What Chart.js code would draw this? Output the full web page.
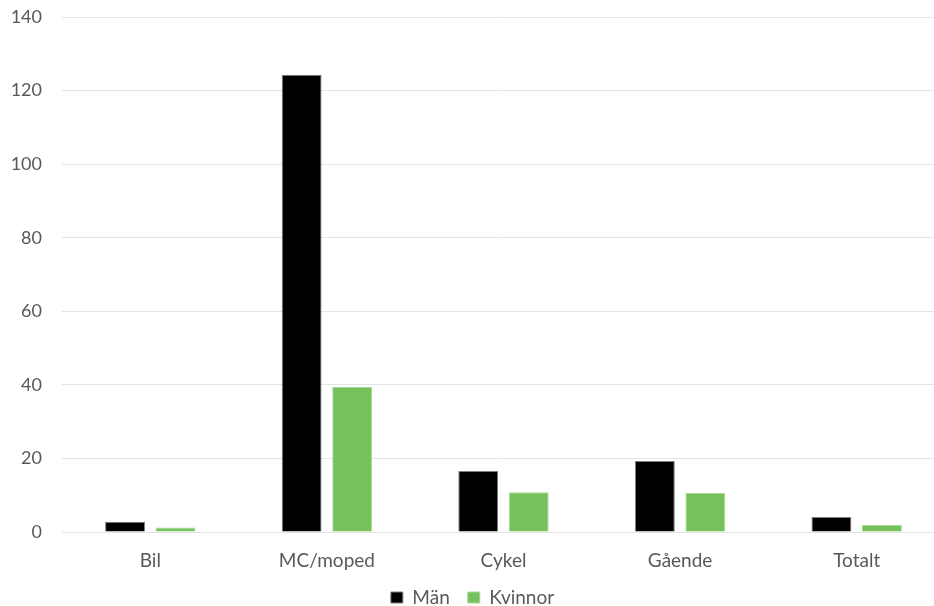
<!DOCTYPE html>
<html>
<head>
<meta charset="utf-8">
<script src="https://cdn.jsdelivr.net/npm/chart.js@4.4.1/dist/chart.umd.min.js"></script>
<style>
  html, body { margin: 0; padding: 0; background: #ffffff; overflow: hidden; }
  #wrap { width: 945px; height: 606px; position: relative; }
</style>
</head>
<body>
<div id="wrap"><canvas id="chart"></canvas></div>
<script>
// Categories and series
const categories = ['Bil', 'MC/moped', 'Cykel', 'Gående', 'Totalt'];
const man = [2.8, 124.3, 16.6, 19.3, 4.1];
const kvinnor = [1.2, 39.4, 10.8, 10.6, 1.9];
const yTicks = [0, 20, 40, 60, 80, 100, 120, 140];

const textColor = '#595959';
const fontFamily = "Lato, 'Open Sans', sans-serif";

// Keep the legend band compact at the bottom of the canvas
const legendHeight = {
  id: 'legendHeight',
  beforeLayout(chart) {
    const lg = chart.legend;
    if (lg && !lg._fixedFit) {
      const orig = lg.fit;
      lg.fit = function () { orig.call(this); this.height = 36; };
      lg._fixedFit = true;
    }
  }
};

new Chart(document.getElementById('chart'), {
  type: 'bar',
  data: {
    labels: categories,
    datasets: [
      {
        label: 'Män',
        data: man,
        backgroundColor: '#000000',
        borderColor: '#7f7f7f',
        borderWidth: 1,
        categoryPercentage: 0.572,
        barPercentage: 0.79
      },
      {
        label: 'Kvinnor',
        data: kvinnor,
        backgroundColor: '#77C15D',
        borderColor: '#a6d896',
        borderWidth: 1,
        categoryPercentage: 0.572,
        barPercentage: 0.79
      }
    ]
  },
  plugins: [legendHeight],
  options: {
    responsive: true,
    maintainAspectRatio: false,
    animation: false,
    layout: { padding: { top: 17, right: 0, left: 0, bottom: 0 } },
    plugins: {
      tooltip: { enabled: false },
      legend: {
        position: 'bottom',
        labels: {
          color: textColor,
          font: { family: fontFamily, size: 19 },
          boxWidth: 12,
          boxHeight: 11,
          padding: 18
        }
      }
    },
    scales: {
      x: {
        grid: { display: false, drawTicks: false },
        border: { display: true, color: '#e4e4e4' },
        afterFit: (axis) => { axis.height = 38; },
        ticks: {
          color: textColor,
          font: { family: fontFamily, size: 19 },
          padding: 17
        }
      },
      y: {
        min: 0,
        max: 140,
        afterBuildTicks: (axis) => { axis.ticks = yTicks.map(v => ({ value: v })); },
        afterFit: (axis) => { axis.width = 62; axis.paddingTop = 0; },
        grid: { color: '#e4e4e4', drawTicks: false },
        border: { display: false },
        ticks: {
          color: textColor,
          font: { family: fontFamily, size: 18 },
          padding: 20
        }
      }
    }
  }
});
</script>
</body>
</html>
